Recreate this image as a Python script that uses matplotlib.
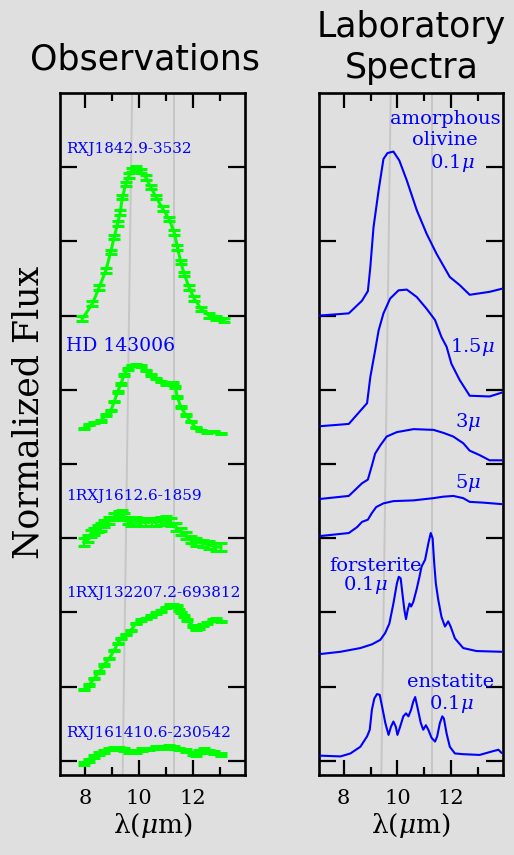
import matplotlib.pyplot as plt

plt.rcParams['mathtext.fontset'] = 'dejavuserif'
plt.rcParams['font.family'] = ['DejaVu Serif']

BG = '#dfdfdf'
GREEN = '#00ff00'
BLUE = '#0000ff'
FEATURE = '#c6c6c6'

# --- observed spectra (wavelength in micron, offset normalized flux) ---
rxj1842_wl = [7.91, 8.28, 8.53, 8.78, 8.96, 9.09, 9.21, 9.31, 9.39, 9.52, 9.64, 9.76,
              9.91, 10.07, 10.26, 10.44, 10.63, 10.88, 11.12, 11.31, 11.43, 11.55,
              11.68, 11.86, 12.05, 12.30, 12.60, 12.85, 13.16]
rxj1842_fx = [5.96, 6.16, 6.38, 6.61, 6.86, 7.06, 7.24, 7.39, 7.60, 7.77, 7.89, 7.96,
              7.99, 7.95, 7.86, 7.73, 7.60, 7.44, 7.30, 7.12, 6.92, 6.72,
              6.56, 6.38, 6.23, 6.09, 6.00, 5.97, 5.94]
rxj1842_err = 0.03

hd143006_wl = [7.97, 8.16, 8.34, 8.59, 8.78, 8.96, 9.09, 9.21, 9.33, 9.46, 9.58, 9.76,
               9.91, 10.07, 10.26, 10.44, 10.63, 10.81, 11.00, 11.25, 11.34, 11.43,
               11.55, 11.74, 11.92, 12.11, 12.30, 12.54, 12.79, 13.04]
hd143006_fx = [4.48, 4.53, 4.56, 4.58, 4.66, 4.72, 4.84, 4.97, 5.08, 5.20, 5.28, 5.33,
               5.34, 5.32, 5.26, 5.20, 5.15, 5.11, 5.08, 5.09, 5.04, 4.90,
               4.77, 4.66, 4.57, 4.49, 4.45, 4.43, 4.44, 4.41]
hd143006_err = 0.01

rxj1612_wl = [7.97, 8.10, 8.22, 8.34, 8.47, 8.59, 8.71, 8.90, 9.09, 9.27, 9.37, 9.46,
              9.58, 9.70, 9.89, 10.07, 10.26, 10.50, 10.63, 10.81, 11.00, 11.18,
              11.37, 11.55, 11.74, 11.92, 12.11, 12.36, 12.60, 12.85, 13.04]
rxj1612_fx = [2.95, 3.00, 3.06, 3.09, 3.13, 3.15, 3.20, 3.24, 3.29, 3.32, 3.33, 3.29,
              3.24, 3.22, 3.24, 3.22, 3.21, 3.22, 3.21, 3.23, 3.25, 3.22,
              3.15, 3.09, 3.04, 2.98, 2.95, 2.93, 2.91, 2.88, 2.88]
rxj1612_err = 0.05

rxj132207_wl = [7.97, 8.16, 8.34, 8.53, 8.71, 8.90, 9.09, 9.21, 9.33, 9.52, 9.70, 9.89,
                10.07, 10.26, 10.44, 10.63, 10.81, 11.00, 11.15, 11.27, 11.40, 11.47,
                11.55, 11.68, 11.80, 11.99, 12.11, 12.24, 12.36, 12.54, 12.73, 12.85, 13.04]
rxj132207_fx = [0.96, 1.02, 1.11, 1.20, 1.29, 1.38, 1.49, 1.58, 1.65, 1.70, 1.76, 1.85,
                1.90, 1.92, 1.95, 1.99, 2.02, 2.07, 2.10, 2.10, 2.09, 2.03,
                2.00, 1.95, 1.90, 1.82, 1.77, 1.79, 1.83, 1.86, 1.90, 1.91, 1.88]
rxj132207_err = 0.01

rxj161410_wl = [7.97, 8.16, 8.34, 8.53, 8.71, 8.90, 9.09, 9.27, 9.46, 9.64, 9.89, 10.13,
                10.38, 10.63, 10.88, 11.12, 11.31, 11.49, 11.74, 11.99, 12.11, 12.24,
                12.42, 12.60, 12.79, 13.04]
rxj161410_fx = [-0.03, 0.01, 0.06, 0.10, 0.13, 0.16, 0.17, 0.17, 0.15, 0.13, 0.13, 0.15,
                0.16, 0.18, 0.18, 0.19, 0.18, 0.16, 0.14, 0.10, 0.09, 0.13,
                0.15, 0.13, 0.11, 0.09]
rxj161410_err = 0.02

# --- laboratory absorption profiles ---
olivine01_wl = [7.10, 8.19, 8.68, 8.90, 8.99, 9.11, 9.30, 9.48, 9.63, 9.85, 10.07, 10.35,
                10.72, 11.09, 11.46, 11.95, 12.32, 12.69, 13.43, 13.87]
olivine01_fx = [6.00, 6.03, 6.20, 6.33, 6.65, 7.19, 7.69, 8.11, 8.19, 8.21, 8.09, 7.82,
                7.42, 7.10, 6.83, 6.52, 6.41, 6.28, 6.32, 6.36]

olivine15_wl = [7.14, 8.19, 8.87, 8.99, 9.17, 9.30, 9.48, 9.73, 10.04, 10.35, 10.72, 11.09,
                11.40, 11.64, 11.83, 12.01, 12.32, 12.69, 13.43, 13.87]
olivine15_fx = [4.51, 4.54, 4.82, 5.17, 5.53, 5.80, 6.03, 6.23, 6.34, 6.35, 6.25, 6.09,
                5.94, 5.71, 5.58, 5.35, 5.13, 4.92, 4.91, 4.96]

olivine3_wl = [7.14, 8.19, 8.68, 8.90, 9.05, 9.17, 9.36, 9.60, 9.98, 10.60, 11.34, 11.71,
               12.08, 12.45, 12.69, 13.06, 13.43, 13.87]
olivine3_fx = [3.53, 3.57, 3.74, 3.79, 3.98, 4.14, 4.25, 4.37, 4.43, 4.47, 4.46, 4.42,
               4.37, 4.28, 4.18, 4.12, 4.05, 4.05]

olivine5_wl = [7.14, 8.19, 8.50, 8.68, 8.90, 9.05, 9.21, 9.48, 9.85, 10.60, 11.34, 11.71,
               12.08, 12.45, 12.69, 13.18, 13.87]
olivine5_fx = [3.03, 3.07, 3.15, 3.22, 3.25, 3.34, 3.42, 3.47, 3.50, 3.51, 3.54, 3.56,
               3.57, 3.54, 3.49, 3.48, 3.46]

forsterite_wl = [7.14, 7.88, 8.62, 9.05, 9.36, 9.54, 9.70, 9.85, 9.98, 10.05, 10.12, 10.20,
                 10.26, 10.32, 10.38, 10.45, 10.51, 10.59, 10.72, 10.82, 10.90, 11.03,
                 11.15, 11.24, 11.31, 11.37, 11.43, 11.52, 11.64, 11.77, 11.89, 11.98,
                 12.14, 12.45, 12.94, 13.87]
forsterite_fx = [1.44, 1.47, 1.52, 1.57, 1.63, 1.72, 1.85, 2.12, 2.39, 2.48, 2.46, 2.21,
                 2.03, 1.91, 2.03, 2.12, 2.08, 2.14, 2.32, 2.48, 2.62, 2.71,
                 2.93, 3.07, 3.00, 2.66, 2.39, 2.17, 1.94, 1.81, 1.88, 1.81,
                 1.65, 1.52, 1.48, 1.47]

enstatite_wl = [7.14, 7.88, 8.25, 8.62, 8.87, 8.97, 9.05, 9.14, 9.24, 9.34, 9.43, 9.55,
                9.67, 9.76, 9.85, 9.94, 10.00, 10.10, 10.22, 10.32, 10.41, 10.51,
                10.59, 10.66, 10.74, 10.87, 10.96, 11.06, 11.15, 11.27, 11.40, 11.48,
                11.58, 11.67, 11.73, 11.83, 11.95, 12.14, 12.45, 13.06, 13.55, 13.76, 13.87]
enstatite_fx = [0.07, 0.06, 0.10, 0.19, 0.33, 0.42, 0.69, 0.84, 0.90, 0.89, 0.73, 0.51,
                0.35, 0.46, 0.53, 0.46, 0.35, 0.46, 0.60, 0.64, 0.60, 0.69,
                0.80, 0.86, 0.73, 0.51, 0.42, 0.48, 0.42, 0.31, 0.26, 0.33,
                0.51, 0.60, 0.57, 0.37, 0.19, 0.10, 0.09, 0.08, 0.13, 0.15, 0.11]

XMIN, XMAX = 7.08, 13.93
YMIN, YMAX = -0.19, 9.0


def style_panel(ax):
    ax.set_facecolor(BG)
    ax.set_xlim(XMIN, XMAX)
    ax.set_ylim(YMIN, YMAX)
    ax.set_xticks([8, 10, 12])
    ax.set_xticks([9, 11, 13], minor=True)
    ax.set_yticks(range(9))
    ax.set_yticklabels([])
    ax.tick_params(axis='x', which='major', direction='in', top=True, length=11,
                   width=1.6, labelsize=15, pad=10)
    ax.tick_params(axis='x', which='minor', direction='in', top=True, length=5.5, width=1.6)
    ax.tick_params(axis='y', which='major', direction='in', right=True, length=12, width=1.6)
    for sp in ax.spines.values():
        sp.set_linewidth(1.9)
    ax.set_xlabel(r'λ($\mu$m)', fontsize=19, labelpad=2)
    # silicate feature reference lines
    ax.plot([9.75, 9.40], [YMAX, YMIN], color=FEATURE, lw=1.4, zorder=1)
    ax.plot([11.29, 11.29], [YMAX, YMIN], color=FEATURE, lw=1.4, zorder=1)


fig = plt.figure(figsize=(5.14, 8.55), dpi=100, facecolor=BG)
ax_obs = fig.add_axes([0.1167, 0.0936, 0.360, 0.7977])
ax_lab = fig.add_axes([0.6206, 0.0936, 0.358, 0.7977])
style_panel(ax_obs)
style_panel(ax_lab)

observations = [
    (rxj1842_wl, rxj1842_fx, rxj1842_err, 'RXJ1842.9-3532', 8.25, 11),
    (hd143006_wl, hd143006_fx, hd143006_err, 'HD 143006', 5.59, 13.5),
    (rxj1612_wl, rxj1612_fx, rxj1612_err, '1RXJ1612.6-1859', 3.57, 11),
    (rxj132207_wl, rxj132207_fx, rxj132207_err, '1RXJ132207.2-693812', 2.26, 11),
    (rxj161410_wl, rxj161410_fx, rxj161410_err, 'RXJ161410.6-230542', 0.38, 11),
]
for wl, fx, err, name, ylab, fs in observations:
    ax_obs.errorbar(wl, fx, yerr=err, color=GREEN, lw=2.2, elinewidth=1.5,
                    capsize=4, capthick=2.2, zorder=3)
    ax_obs.text(7.31, ylab, name, color=BLUE, fontsize=fs, va='center', ha='left')

for wl, fx in [(olivine01_wl, olivine01_fx), (olivine15_wl, olivine15_fx),
               (olivine3_wl, olivine3_fx), (olivine5_wl, olivine5_fx),
               (forsterite_wl, forsterite_fx), (enstatite_wl, enstatite_fx)]:
    ax_lab.plot(wl, fx, color=BLUE, lw=1.5, zorder=3)

lab_labels = [
    ('amorphous', 11.77, 8.65), ('olivine', 11.77, 8.36), (r'0.1$\mu$', 12.03, 8.06),
    (r'1.5$\mu$', 12.80, 5.57), (r'3$\mu$', 12.62, 4.56), (r'5$\mu$', 12.62, 3.75),
    ('forsterite', 9.17, 2.62), (r'0.1$\mu$', 8.80, 2.37),
    ('enstatite', 11.99, 1.06), (r'0.1$\mu$', 11.99, 0.77),
]
for txt, x, y in lab_labels:
    ax_lab.text(x, y, txt, color=BLUE, fontsize=14, ha='center', va='center')

title_font = dict(ha='center', va='center', fontsize=25, family='DejaVu Sans',
                  color='black')
fig.text(0.282, 0.930, 'Observations', **title_font)
fig.text(0.800, 0.968, 'Laboratory', **title_font)
fig.text(0.800, 0.920, 'Spectra', **title_font)
fig.text(0.056, 0.518, 'Normalized Flux', rotation=90, ha='center', va='center',
         fontsize=25)

fig.savefig('out.png', dpi=100, facecolor=BG)
